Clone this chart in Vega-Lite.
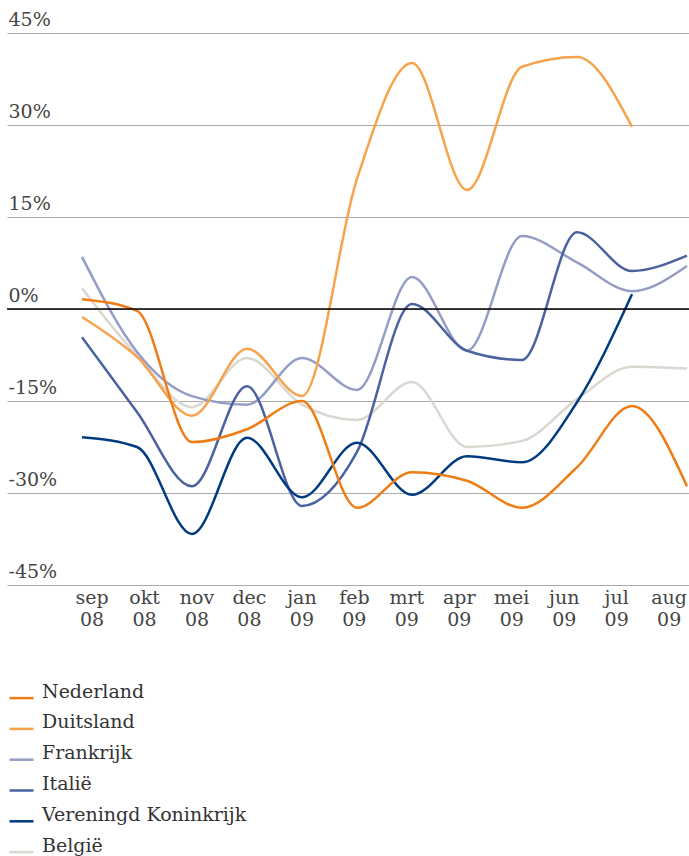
{
  "$schema": "https://vega.github.io/schema/vega-lite/v6.json",
  "width": 682,
  "height": 552,
  "autosize": {"type": "none"},
  "padding": {"left": 7, "top": 33, "right": 0, "bottom": 271},
  "background": "white",
  "config": {
    "view": {"stroke": null},
    "font": "DejaVu Serif",
    "axis": {"labelFont": "DejaVu Serif", "labelFontWeight": "normal"},
    "legend": {"labelFont": "DejaVu Serif"}
  },
  "datasets": {
    "reeks": [
      {"land": "België", "idx": 0, "waarde": 3.4},
      {"land": "België", "idx": 1, "waarde": -7.6},
      {"land": "België", "idx": 2, "waarde": -16.0},
      {"land": "België", "idx": 3, "waarde": -8.0},
      {"land": "België", "idx": 4, "waarde": -15.6},
      {"land": "België", "idx": 5, "waarde": -18.1},
      {"land": "België", "idx": 6, "waarde": -11.9},
      {"land": "België", "idx": 7, "waarde": -22.5},
      {"land": "België", "idx": 8, "waarde": -21.5},
      {"land": "België", "idx": 9, "waarde": -14.7},
      {"land": "België", "idx": 10, "waarde": -9.4},
      {"land": "België", "idx": 11, "waarde": -9.7},
      {"land": "Frankrijk", "idx": 0, "waarde": 8.5},
      {"land": "Frankrijk", "idx": 1, "waarde": -7.0},
      {"land": "Frankrijk", "idx": 2, "waarde": -14.2},
      {"land": "Frankrijk", "idx": 3, "waarde": -15.6},
      {"land": "Frankrijk", "idx": 4, "waarde": -8.0},
      {"land": "Frankrijk", "idx": 5, "waarde": -13.2},
      {"land": "Frankrijk", "idx": 6, "waarde": 5.2},
      {"land": "Frankrijk", "idx": 7, "waarde": -6.8},
      {"land": "Frankrijk", "idx": 8, "waarde": 11.9},
      {"land": "Frankrijk", "idx": 9, "waarde": 7.6},
      {"land": "Frankrijk", "idx": 10, "waarde": 2.9},
      {"land": "Frankrijk", "idx": 11, "waarde": 7.0},
      {"land": "Italië", "idx": 0, "waarde": -4.6},
      {"land": "Italië", "idx": 1, "waarde": -16.8},
      {"land": "Italië", "idx": 2, "waarde": -28.9},
      {"land": "Italië", "idx": 3, "waarde": -12.6},
      {"land": "Italië", "idx": 4, "waarde": -32.1},
      {"land": "Italië", "idx": 5, "waarde": -23.3},
      {"land": "Italië", "idx": 6, "waarde": 0.8},
      {"land": "Italië", "idx": 7, "waarde": -6.8},
      {"land": "Italië", "idx": 8, "waarde": -8.3},
      {"land": "Italië", "idx": 9, "waarde": 12.5},
      {"land": "Italië", "idx": 10, "waarde": 6.2},
      {"land": "Italië", "idx": 11, "waarde": 8.7},
      {"land": "Vereningd Koninkrijk", "idx": 0, "waarde": -20.9},
      {"land": "Vereningd Koninkrijk", "idx": 1, "waarde": -22.5},
      {"land": "Vereningd Koninkrijk", "idx": 2, "waarde": -36.7},
      {"land": "Vereningd Koninkrijk", "idx": 3, "waarde": -21.0},
      {"land": "Vereningd Koninkrijk", "idx": 4, "waarde": -30.7},
      {"land": "Vereningd Koninkrijk", "idx": 5, "waarde": -21.8},
      {"land": "Vereningd Koninkrijk", "idx": 6, "waarde": -30.3},
      {"land": "Vereningd Koninkrijk", "idx": 7, "waarde": -24.0},
      {"land": "Vereningd Koninkrijk", "idx": 8, "waarde": -25.0},
      {"land": "Vereningd Koninkrijk", "idx": 9, "waarde": -15.2},
      {"land": "Vereningd Koninkrijk", "idx": 10, "waarde": 2.4},
      {"land": "Duitsland", "idx": 0, "waarde": -1.3},
      {"land": "Duitsland", "idx": 1, "waarde": -7.8},
      {"land": "Duitsland", "idx": 2, "waarde": -17.4},
      {"land": "Duitsland", "idx": 3, "waarde": -6.5},
      {"land": "Duitsland", "idx": 4, "waarde": -14.2},
      {"land": "Duitsland", "idx": 5, "waarde": 21.2},
      {"land": "Duitsland", "idx": 6, "waarde": 40.1},
      {"land": "Duitsland", "idx": 7, "waarde": 19.4},
      {"land": "Duitsland", "idx": 8, "waarde": 39.5},
      {"land": "Duitsland", "idx": 9, "waarde": 41.1},
      {"land": "Duitsland", "idx": 10, "waarde": 29.7},
      {"land": "Nederland", "idx": 0, "waarde": 1.6},
      {"land": "Nederland", "idx": 1, "waarde": -0.3},
      {"land": "Nederland", "idx": 2, "waarde": -21.7},
      {"land": "Nederland", "idx": 3, "waarde": -19.6},
      {"land": "Nederland", "idx": 4, "waarde": -15.0},
      {"land": "Nederland", "idx": 5, "waarde": -32.4},
      {"land": "Nederland", "idx": 6, "waarde": -26.6},
      {"land": "Nederland", "idx": 7, "waarde": -28.0},
      {"land": "Nederland", "idx": 8, "waarde": -32.4},
      {"land": "Nederland", "idx": 9, "waarde": -25.8},
      {"land": "Nederland", "idx": 10, "waarde": -15.8},
      {"land": "Nederland", "idx": 11, "waarde": -28.9}
    ],
    "maanden": [
      {"maand": "sep 08"}, {"maand": "okt 08"}, {"maand": "nov 08"}, {"maand": "dec 08"},
      {"maand": "jan 09"}, {"maand": "feb 09"}, {"maand": "mrt 09"}, {"maand": "apr 09"},
      {"maand": "mei 09"}, {"maand": "jun 09"}, {"maand": "jul 09"}, {"maand": "aug 09"}
    ],
    "nul": [{"y": 0}]
  },
  "layer": [
    {
      "data": {"name": "reeks"},
      "mark": {"type": "line", "interpolate": "monotone", "strokeWidth": 2.5},
      "encoding": {
        "x": {
          "field": "idx", "type": "quantitative",
          "scale": {"domain": [-1.3636, 11.0364], "nice": false, "zero": false},
          "axis": null
        },
        "y": {
          "field": "waarde", "type": "quantitative",
          "scale": {"domain": [-45, 45], "nice": false},
          "axis": {
            "values": [-45, -30, -15, 0, 15, 30, 45],
            "labelExpr": "datum.value + '%'",
            "title": null,
            "domain": false,
            "ticks": false,
            "grid": true,
            "gridColor": "#aaaaaa",
            "gridWidth": 1,
            "labelAlign": "left",
            "labelBaseline": "alphabetic",
            "labelPadding": -1,
            "labelOffset": -8,
            "labelFontSize": 19,
            "labelColor": "#444444"
          }
        },
        "color": {
          "field": "land", "type": "nominal",
          "scale": {
            "domain": ["Nederland", "Duitsland", "Frankrijk", "Italië", "Vereningd Koninkrijk", "België"],
            "range": ["#ee7d16", "#f7a34c", "#959dc6", "#4a62a0", "#003b80", "#dad7d1"]
          },
          "legend": {
            "title": null,
            "orient": "none",
            "legendX": 1,
            "legendY": 645,
            "symbolType": "M-1,0.55L1,0.55",
            "symbolSize": 576,
            "symbolStrokeWidth": 2.5,
            "labelFontSize": 19,
            "labelColor": "#333333",
            "labelOffset": 7,
            "rowPadding": 4.8,
            "labelLimit": 400
          }
        }
      }
    },
    {
      "data": {"name": "nul"},
      "mark": {"type": "rule", "color": "#000000", "strokeWidth": 1.3},
      "encoding": {"y": {"field": "y", "type": "quantitative"}}
    },
    {
      "data": {"name": "maanden"},
      "mark": {"type": "point", "opacity": 0},
      "encoding": {
        "x": {
          "field": "maand", "type": "ordinal", "sort": null,
          "scale": {"type": "point", "padding": 1.222, "align": 0.806},
          "axis": {
            "orient": "bottom",
            "title": null,
            "domain": false,
            "ticks": false,
            "grid": false,
            "labelAngle": 0,
            "labelExpr": "split(datum.label, ' ')",
            "labelFontSize": 19,
            "labelColor": "#444444",
            "labelPadding": 3,
            "labelLineHeight": 22,
            "labelBaseline": "top"
          }
        }
      }
    }
  ],
  "resolve": {"scale": {"x": "independent"}}
}
